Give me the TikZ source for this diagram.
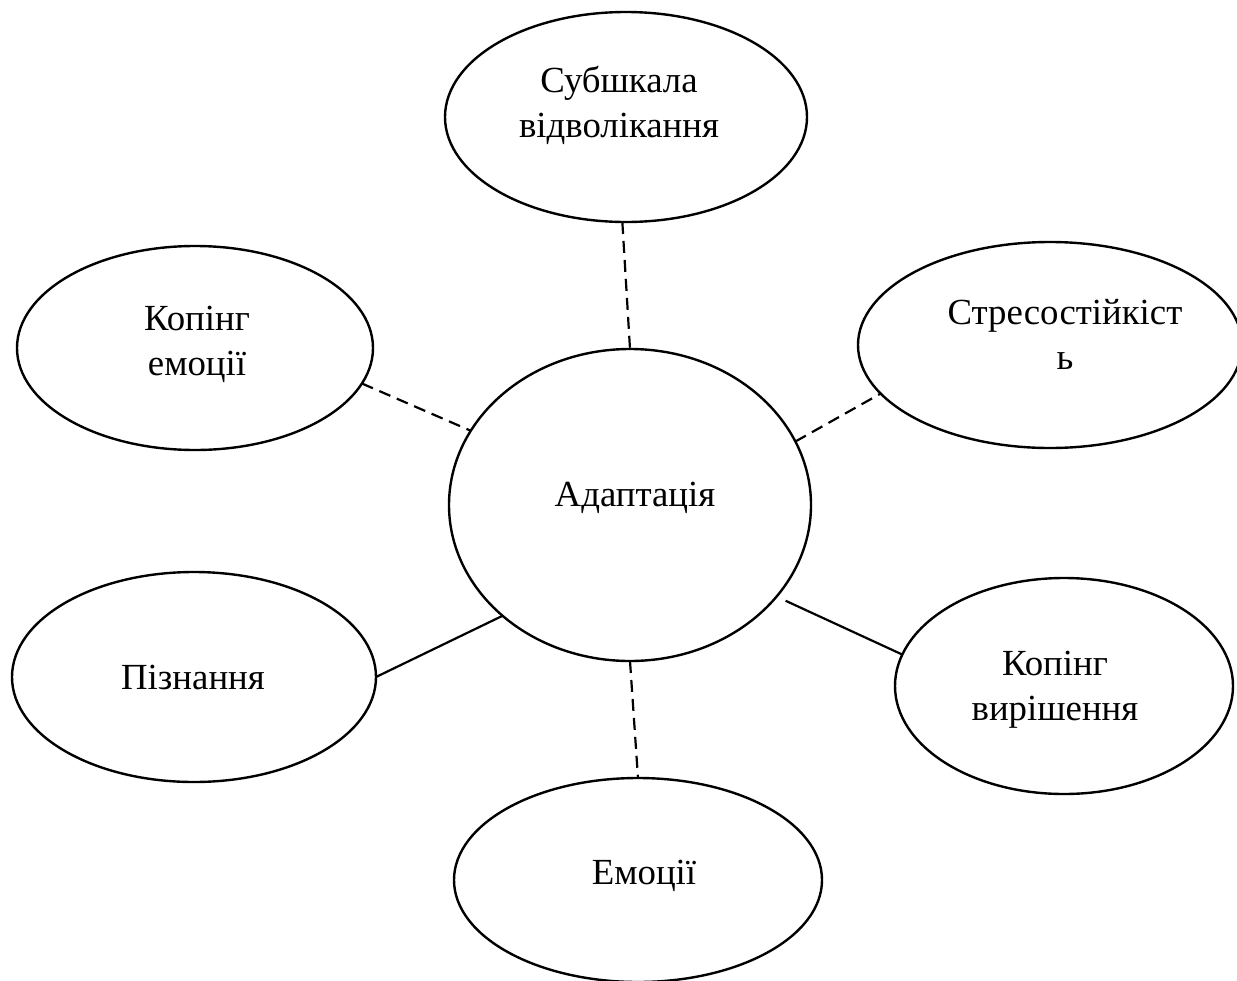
\documentclass[tikz,border=0pt]{standalone}
\usepackage{fontspec}
\setmainfont{Liberation Serif}
\usetikzlibrary{shapes.geometric}

\begin{document}
\begin{tikzpicture}[x=0.5pt, y=-0.5pt,
    bubble/.style={draw, ellipse, line width=1.2pt, inner sep=0pt, outer sep=0pt},
    word/.style={align=center, inner sep=0pt, font=\fontsize{18.4}{22.4}\selectfont},
    link/.style={line width=1.1pt},
    dashlink/.style={line width=1.1pt, dash pattern=on 6pt off 3.5pt}]

\useasboundingbox (0,0) rectangle (1237,980);

\node[bubble, minimum width=181pt, minimum height=105pt] (sub) at (626,117) {};
\node[bubble, minimum width=178pt, minimum height=102pt] (kopem) at (195,348) {};
\node[bubble, minimum width=192pt, minimum height=103pt] (stres) at (1050,345) {};
\node[bubble, minimum width=181pt, minimum height=156pt] (adapt) at (630,505) {};
\node[bubble, minimum width=182pt, minimum height=105pt] (piz) at (194,677) {};
\node[bubble, minimum width=169pt, minimum height=108pt] (kopvyr) at (1064,686) {};
\node[bubble, minimum width=184pt, minimum height=102pt] (emo) at (638,880) {};

\node[word] (subtxt) at (619,105) {Субшкала\\відволікання};
\node[word] (kopemtxt) at (197,344) {Копінг\\емоції};
\node[word] (strestxt) at (1065,334) {Стресостійкіст\\ь};
\node[word, anchor=base] (adapttxt) at (635,506) {Адаптація};
\node[word, anchor=base] (piztxt) at (193,689) {Пізнання};
\node[word] (kopvyrtxt) at (1055,690) {Копінг\\вирішення};
\node[word, anchor=base] (emotxt) at (644,884) {Емоції};

\draw[dashlink] (sub.-92) -- (adapt.90);
\draw[dashlink] (kopem.-12) -- (adapt.155);
\draw[dashlink] (adapt.21) -- (stres.-164);
\draw[link] (piz.0) -- (adapt.-139);
\draw[link, shorten <=5pt] (adapt.-32) -- (kopvyr.169);
\draw[dashlink] (adapt.-90) -- (emo.90);

\end{tikzpicture}
\end{document}
